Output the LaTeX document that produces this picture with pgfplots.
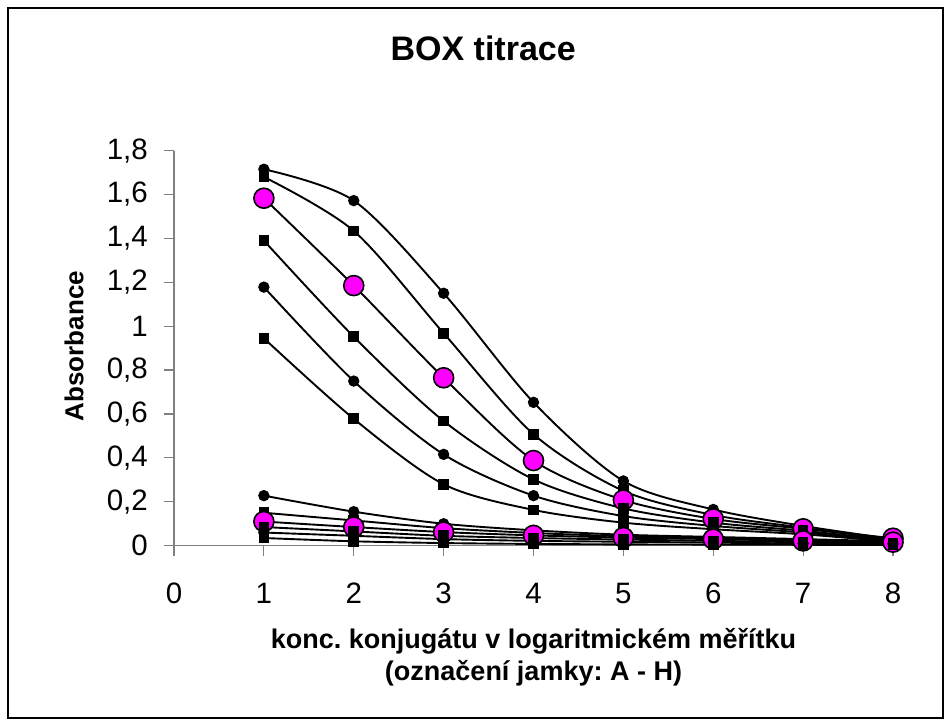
\documentclass[border=0pt]{standalone}
\usepackage{pgfplots}
\pgfplotsset{compat=1.18}
\usepackage{pgfplotstable}
\usepackage{fontspec}
\setmainfont{Liberation Sans}
\frenchspacing
\definecolor{mag}{HTML}{FF00FF}
\definecolor{axgray}{HTML}{808080}

\pgfplotstableread{
x  s1    s2    s3    s4    s5    s6    s7    s8    s9    s10   s11   s12
1  1.715 1.680 1.583 1.390 1.178 0.945 0.228 0.150 0.110 0.085 0.060 0.035
2  1.572 1.434 1.185 0.952 0.750 0.578 0.155 0.115 0.085 0.065 0.045 0.020
3  1.150 0.968 0.765 0.568 0.416 0.280 0.100 0.080 0.062 0.045 0.030 0.012
4  0.653 0.508 0.388 0.302 0.228 0.163 0.070 0.058 0.047 0.035 0.022 0.008
5  0.295 0.250 0.208 0.170 0.135 0.105 0.050 0.043 0.037 0.028 0.018 0.006
6  0.165 0.140 0.122 0.105 0.090 0.075 0.040 0.035 0.030 0.022 0.014 0.005
7  0.090 0.082 0.077 0.068 0.060 0.052 0.030 0.025 0.022 0.016 0.010 0.004
8  0.030 0.028 0.034 0.025 0.020 0.018 0.020 0.018 0.016 0.012 0.008 0.004
}\datatable

\begin{document}
\begin{tikzpicture}[x=1bp,y=1bp]
\path[use as bounding box] (0,0) rectangle (951,726);
\draw[black, line width=1.4bp] (8,8) rectangle (943,718);
\begin{axis}[
  at={(174bp,180.3bp)}, anchor=south west,
  scale only axis, width=719bp, height=395.1bp,
  xmin=0, xmax=8, ymin=0, ymax=1.8,
  clip=false,
  axis lines*=left,
  axis line style={axgray, line width=1.2bp},
  tick style={axgray, line width=1.2bp},
  tick align=outside, major tick length=10bp,
  xtick={0,1,2,3,4,5,6,7,8},
  ytick={0,0.2,0.4,0.6,0.8,1,1.2,1.4,1.6,1.8},
  /pgf/number format/use comma,
  /pgf/number format/assume math mode=true,
  tick label style={font=\fontsize{29.5bp}{32bp}\selectfont, black, inner sep=0pt},
  yticklabel style={anchor=east, xshift=-16bp},
  xticklabel style={anchor=north, yshift=-27bp},
  title={BOX titrace},
  title style={font=\fontsize{34bp}{40bp}\selectfont\bfseries, at={(axis description cs:0.43,1.243)}, anchor=center},
  xlabel={konc. konjugátu v logaritmickém měřítku\\(označení jamky: A - H)},
  xlabel style={font=\fontsize{27bp}{32bp}\selectfont\bfseries, align=center, at={(axis description cs:0.5,-0.282)}, anchor=center},
  ylabel={Absorbance},
  ylabel style={font=\fontsize{26bp}{32bp}\selectfont\bfseries, at={(axis description cs:-0.139,0.505)}, anchor=center},
  every axis plot/.append style={black, line width=1.9bp, smooth},
  circ/.style={mark=*, mark size=4.7bp, mark options={fill=black, draw=black}},
  sq/.style={mark=square*, mark size=4.4bp, mark options={fill=black, draw=black}},
  mg/.style={mark=*, mark size=10bp, mark options={fill=mag, draw=black, line width=1.6bp}},
]
\addplot[circ] table[x=x,y=s1] {\datatable};
\addplot[sq]   table[x=x,y=s2] {\datatable};
\addplot[mg]   table[x=x,y=s3] {\datatable};
\addplot[sq]   table[x=x,y=s4] {\datatable};
\addplot[circ] table[x=x,y=s5] {\datatable};
\addplot[sq]   table[x=x,y=s6] {\datatable};
\addplot[circ] table[x=x,y=s7] {\datatable};
\addplot[sq]   table[x=x,y=s8] {\datatable};
\addplot[mg]   table[x=x,y=s9] {\datatable};
\addplot[sq]   table[x=x,y=s10] {\datatable};
\addplot[circ] table[x=x,y=s11] {\datatable};
\addplot[sq]   table[x=x,y=s12] {\datatable};
\end{axis}
\end{tikzpicture}
\end{document}
